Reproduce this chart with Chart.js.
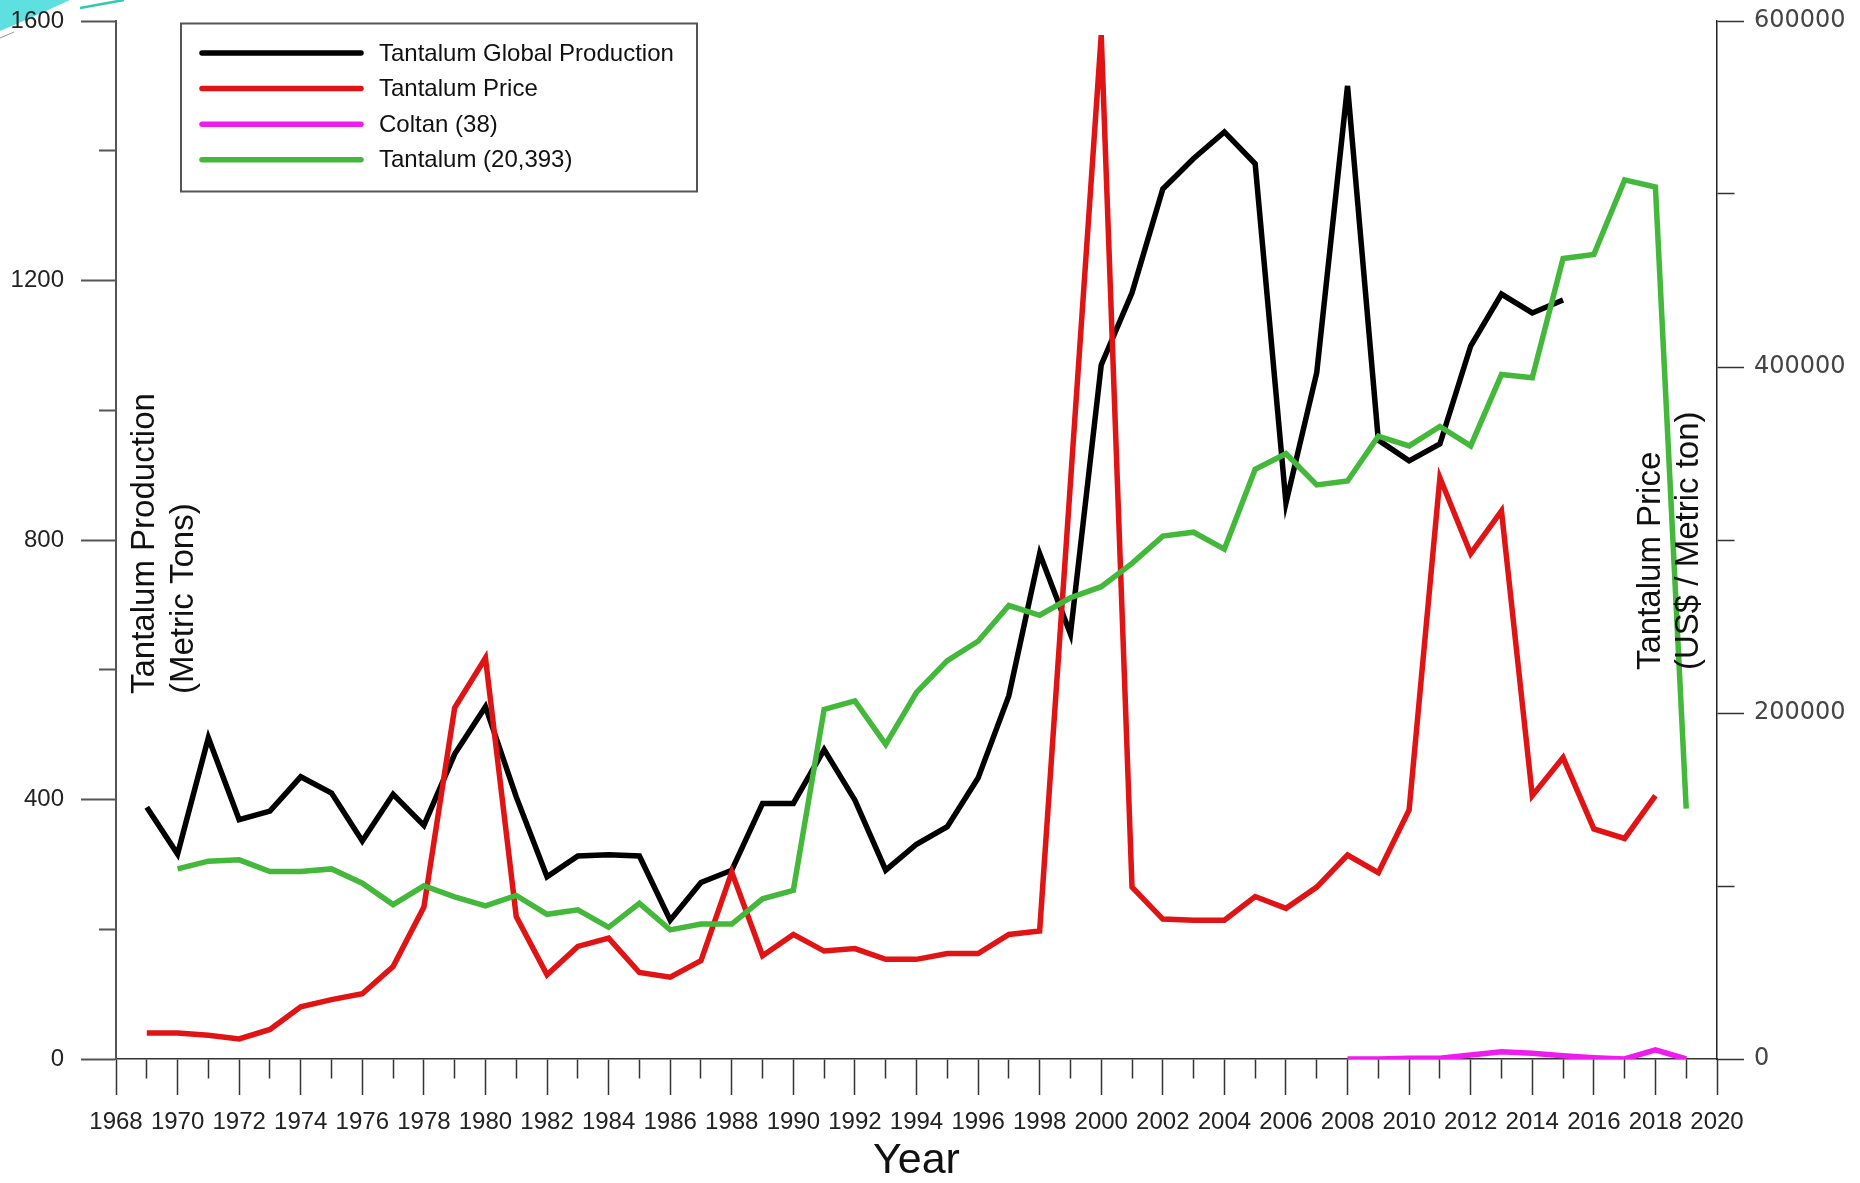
<!DOCTYPE html>
<html>
<head>
<meta charset="utf-8">
<script src="https://cdn.jsdelivr.net/npm/chart.js@4.4.1/dist/chart.umd.min.js"></script>
<style>
  body { margin: 0; background: #fff; }
  #wrap { width: 1860px; height: 1183px; position: relative; }
</style>
</head>
<body>
<div id="wrap"><canvas id="tantalumChart"></canvas></div>
<script>
const years = [1969, 1970, 1971, 1972, 1973, 1974, 1975, 1976, 1977, 1978,
  1979, 1980, 1981, 1982, 1983, 1984, 1985, 1986, 1987, 1988,
  1989, 1990, 1991, 1992, 1993, 1994, 1995, 1996, 1997, 1998,
  1999, 2000, 2001, 2002, 2003, 2004, 2005, 2006, 2007, 2008,
  2009, 2010, 2011, 2012, 2013, 2014, 2015, 2016, 2017, 2018, 2019];

// metric tons
const globalProduction = [388, 316, 495, 369, 382, 435, 410, 336, 408, 360,
  470, 543, 404, 281, 313, 315, 313, 214, 272, 291,
  394, 394, 477, 399, 291, 331, 358, 433, 560, 779,
  655, 1070, 1181, 1341, 1388, 1429, 1380, 857, 1058, 1500,
  954, 922, 948, 1099, 1179, 1150, 1170, null, null, null, null];

// US$ / metric ton
const tantalumPrice = [15000, 15000, 13700, 11600, 17100, 30200, 34300, 37700, 53500, 87800,
  203000, 231800, 82300, 48700, 65100, 69900, 50000, 47300, 56900, 108000,
  59700, 72000, 62400, 63800, 57600, 57600, 61000, 61000, 72000, 74000,
  333000, 591800, 99400, 80900, 80200, 80200, 93900, 87100, 99400, 117900,
  107700, 144000, 336000, 292100, 316800, 152200, 174200, 133000, 127500, 152200, null];

const coltan = [null, null, null, null, null, null, null, null, null, null,
  null, null, null, null, null, null, null, null, null, null,
  null, null, null, null, null, null, null, null, null, null,
  null, null, null, null, null, null, null, null, null, 0,
  0, 1, 1, 6, 11, 9, 5, 2, 0, 14, 0];

const tantalum = [null, 293, 305, 307, 289, 289, 293, 271, 238, 267,
  250, 236, 252, 223, 230, 203, 240, 199, 208, 208,
  247, 260, 539, 552, 485, 565, 614, 644, 699, 684,
  711, 728, 764, 806, 812, 786, 909, 933, 885, 891,
  960, 945, 975, 945, 1055, 1050, 1234, 1240, 1355, 1344, 386];

const seriesNames = ['Tantalum Global Production', 'Tantalum Price', 'Coltan (38)', 'Tantalum (20,393)'];
const leftTicks = [0, 400, 800, 1200, 1600];
const rightTicks = [0, 200000, 400000, 600000];

const SANS = "'Liberation Sans', Arial, sans-serif";
const WIDE = "'DejaVu Sans', Verdana, sans-serif";

const toPoints = (vals) => years.map((x, i) => ({ x: x, y: vals[i] }));

// no extra room above/below the vertical scales for their labels
const noPad = (s) => { s.paddingTop = 0; s.paddingBottom = 0; };

// slide decoration in the top-left corner
const slideCorner = {
  id: 'slideCorner',
  beforeDraw(chart) {
    const ctx = chart.ctx;
    ctx.save();
    ctx.fillStyle = '#5fe0e0';
    ctx.beginPath();
    ctx.moveTo(0, 0);
    ctx.lineTo(70, 0);
    ctx.quadraticCurveTo(36, 16, 0, 31);
    ctx.closePath();
    ctx.fill();
    ctx.strokeStyle = '#2fc9b0';
    ctx.lineWidth = 2.5;
    ctx.beginPath();
    ctx.moveTo(80, 8);
    ctx.lineTo(124, 0);
    ctx.stroke();
    ctx.strokeStyle = '#999';
    ctx.lineWidth = 1;
    ctx.beginPath();
    ctx.moveTo(0, 38);
    ctx.lineTo(14, 32);
    ctx.stroke();
    ctx.restore();
  }
};

// axis titles inside the plot and the framed legend
const chartDecor = {
  id: 'chartDecor',
  afterDraw(chart) {
    const ctx = chart.ctx;
    const a = chart.chartArea;
    ctx.save();

    const vtext = (lines, xs, yStart, font) => {
      lines.forEach((t, i) => {
        ctx.save();
        ctx.translate(xs[i], yStart);
        ctx.rotate(-Math.PI / 2);
        ctx.font = font;
        ctx.fillStyle = '#111';
        ctx.textAlign = 'left';
        ctx.textBaseline = 'middle';
        ctx.fillText(t, 0, 0);
        ctx.restore();
      });
    };
    vtext(['Tantalum Production', '(Metric Tons)'], [a.left + 29, a.left + 68], a.top + 673, '33px ' + SANS);
    vtext(['Tantalum Price', '(US$ / Metric ton)'], [a.right - 66, a.right - 28], a.top + 649, '33px ' + SANS);

    const bx = a.left + 65, by = a.top + 2.5, bw = 516, bh = 168;
    ctx.fillStyle = '#fff';
    ctx.fillRect(bx, by, bw, bh);
    ctx.strokeStyle = '#555';
    ctx.lineWidth = 2;
    ctx.strokeRect(bx, by, bw, bh);

    chart.data.datasets.forEach((ds, i) => {
      const ly = by + 29.5 + i * 35.6;
      ctx.strokeStyle = ds.borderColor;
      ctx.lineWidth = 5.5;
      ctx.lineCap = 'round';
      ctx.beginPath();
      ctx.moveTo(bx + 21, ly);
      ctx.lineTo(bx + 180, ly);
      ctx.stroke();
      ctx.font = '24px ' + SANS;
      ctx.fillStyle = '#111';
      ctx.textAlign = 'left';
      ctx.textBaseline = 'middle';
      ctx.fillText(ds.label, bx + 198, ly + 1);
    });
    ctx.restore();
  }
};

new Chart(document.getElementById('tantalumChart'), {
  type: 'line',
  data: {
    datasets: [
      {
        label: seriesNames[0],
        data: toPoints(globalProduction),
        yAxisID: 'y',
        borderColor: '#000000',
        borderWidth: 5.5,
        order: 4
      },
      {
        label: seriesNames[1],
        data: toPoints(tantalumPrice),
        yAxisID: 'y1',
        borderColor: '#e01414',
        borderWidth: 5.5,
        order: 3
      },
      {
        label: seriesNames[2],
        data: toPoints(coltan),
        yAxisID: 'y',
        borderColor: '#ee1cee',
        borderWidth: 5.5,
        order: 2
      },
      {
        label: seriesNames[3],
        data: toPoints(tantalum),
        yAxisID: 'y',
        borderColor: '#43b83b',
        borderWidth: 5.5,
        order: 1
      }
    ]
  },
  options: {
    responsive: true,
    maintainAspectRatio: false,
    animation: false,
    layout: {
      padding: { top: 21, left: 0, right: 0, bottom: 0 }
    },
    elements: {
      point: { radius: 0 },
      line: { tension: 0, fill: false }
    },
    plugins: {
      legend: { display: false },
      tooltip: { enabled: false }
    },
    scales: {
      x: {
        type: 'linear',
        min: 1968,
        max: 2020,
        afterFit: (s) => { s.height = 124; },
        ticks: {
          stepSize: 1,
          autoSkip: false,
          maxRotation: 0,
          padding: 13,
          color: '#222',
          font: { family: SANS, size: 24 },
          callback: (v) => (v % 2 === 0 ? String(v) : '')
        },
        grid: {
          drawOnChartArea: false,
          tickLength: 36,
          tickWidth: 1.5,
          tickColor: '#333',
          tickBorderDash: (c) => (c.tick && c.tick.value % 2 ? [19, 100] : [])
        },
        border: { display: true, color: '#333', width: 1.5 },
        title: {
          display: true,
          text: 'Year',
          color: '#111',
          font: { family: SANS, size: 43, lineHeight: 1 },
          padding: { top: 0, bottom: 0 }
        }
      },
      y: {
        position: 'left',
        min: 0,
        max: 1600,
        afterFit: (s) => { s.width = 116; noPad(s); },
        ticks: {
          stepSize: 200,
          padding: 17,
          color: '#222',
          font: { family: SANS, size: 24 },
          callback: (v) => (leftTicks.includes(v) ? String(v) : '')
        },
        grid: {
          drawOnChartArea: false,
          tickLength: 35,
          tickWidth: 2,
          tickColor: '#555',
          tickBorderDash: (c) => (c.tick && c.tick.value % 400 ? [0, 18, 17, 100] : [])
        },
        border: { display: true, color: '#555', width: 2 }
      },
      y1: {
        position: 'right',
        min: 0,
        max: 600000,
        afterFit: (s) => { s.width = 143; noPad(s); },
        ticks: {
          stepSize: 100000,
          padding: 10,
          color: '#444',
          font: { family: WIDE, size: 24 },
          callback: (v) => (rightTicks.includes(v) ? String(v) : '')
        },
        grid: {
          drawOnChartArea: false,
          tickLength: 27,
          tickWidth: 1.5,
          tickColor: '#333',
          tickBorderDash: (c) => (c.tick && c.tick.value % 200000 ? [17, 100] : [])
        },
        border: { display: true, color: '#222', width: 1.5 }
      }
    }
  },
  plugins: [slideCorner, chartDecor]
});
</script>
</body>
</html>
